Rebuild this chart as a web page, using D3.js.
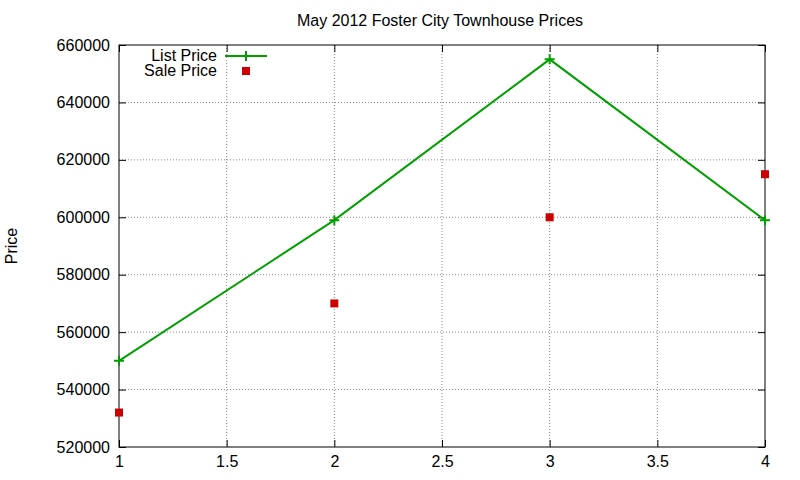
<!DOCTYPE html>
<html><head><meta charset="utf-8">
<script src="https://cdn.jsdelivr.net/npm/d3@7"></script>
<style>body{margin:0;background:#fff}svg{font-family:"Liberation Sans",Arial,sans-serif}</style>
</head><body><svg id="c" width="800" height="480"></svg>
<script>
const xs = [1, 2, 3, 4];
const listPrice = [550000, 599000, 655000, 599000];
const salePrice = [532000, 570000, 600000, 615000];
const xTicks = [1, 1.5, 2, 2.5, 3, 3.5, 4];
const yTicks = [520000, 540000, 560000, 580000, 600000, 620000, 640000, 660000];

const svg = d3.select("#c");
const L = 119, R = 765, T = 45, B = 447;
const FS = 16;
const x = d3.scaleLinear().domain([1, 4]).range([L, R]);
const y = d3.scaleLinear().domain([520000, 660000]).range([B, T]);

const g = svg.append("g");
g.selectAll(".gx").data(xTicks.slice(1, -1)).enter().append("line")
  .attr("x1", d => x(d)).attr("x2", d => x(d)).attr("y1", T).attr("y2", B)
  .attr("stroke", "#888").attr("stroke-dasharray", "1,2");
g.selectAll(".gy").data(yTicks.slice(1, -1)).enter().append("line")
  .attr("x1", L).attr("x2", R).attr("y1", d => y(d)).attr("y2", d => y(d))
  .attr("stroke", "#888").attr("stroke-dasharray", "1,2");

svg.append("g").attr("transform", `translate(0,${B})`)
  .call(d3.axisBottom(x).tickValues(xTicks).tickSizeInner(-7).tickSizeOuter(0).tickPadding(9).tickFormat(d3.format("")));
svg.append("g").attr("transform", `translate(${L},0)`)
  .call(d3.axisLeft(y).tickValues(yTicks).tickSizeInner(-7).tickSizeOuter(0).tickPadding(9).tickFormat(d3.format("d")));
svg.append("g").attr("transform", `translate(0,${T})`)
  .call(d3.axisTop(x).tickValues(xTicks).tickSizeInner(-7).tickSizeOuter(0).tickFormat(""));
svg.append("g").attr("transform", `translate(${R},0)`)
  .call(d3.axisRight(y).tickValues(yTicks).tickSizeInner(-7).tickSizeOuter(0).tickFormat(""));
svg.selectAll(".domain").remove();
svg.selectAll(".tick text").attr("font-size", FS).attr("fill", "#000")
  .attr("font-family", "Liberation Sans, Arial, sans-serif");
svg.append("rect").attr("x", L).attr("y", T).attr("width", R - L).attr("height", B - T)
  .attr("fill", "none").attr("stroke", "#000");

const line = d3.line().x((d, i) => x(xs[i])).y(d => y(d));
svg.append("path").datum(listPrice).attr("d", line).attr("fill", "none")
  .attr("stroke", "#00a000").attr("stroke-width", 2);
const plus = (px, py) => `M${px-5},${py}H${px+5}M${px},${py-5}V${py+5}`;
svg.selectAll(".lp").data(listPrice).enter().append("path")
  .attr("d", (d, i) => plus(x(xs[i]), y(d))).attr("stroke", "#00a000").attr("stroke-width", 2);
svg.selectAll(".sp").data(salePrice).enter().append("rect")
  .attr("x", (d, i) => x(xs[i]) - 4).attr("y", d => y(d) - 4).attr("width", 8).attr("height", 8)
  .attr("fill", "#cc0000");

svg.append("text").attr("x", 217).attr("y", 61).attr("text-anchor", "end").attr("font-size", FS).text("List Price");
svg.append("line").attr("x1", 225).attr("x2", 267).attr("y1", 56).attr("y2", 56).attr("stroke", "#00a000").attr("stroke-width", 2);
svg.append("path").attr("d", plus(246, 56)).attr("stroke", "#00a000").attr("stroke-width", 2);
svg.append("text").attr("x", 217).attr("y", 76).attr("text-anchor", "end").attr("font-size", FS).text("Sale Price");
svg.append("rect").attr("x", 242).attr("y", 67).attr("width", 8).attr("height", 8).attr("fill", "#cc0000");

svg.append("text").attr("x", 440).attr("y", 26).attr("text-anchor", "middle").attr("font-size", FS).text("May 2012 Foster City Townhouse Prices");
svg.append("text").attr("transform", "translate(17,246) rotate(-90)").attr("text-anchor", "middle").attr("font-size", FS).text("Price");
</script></body></html>
